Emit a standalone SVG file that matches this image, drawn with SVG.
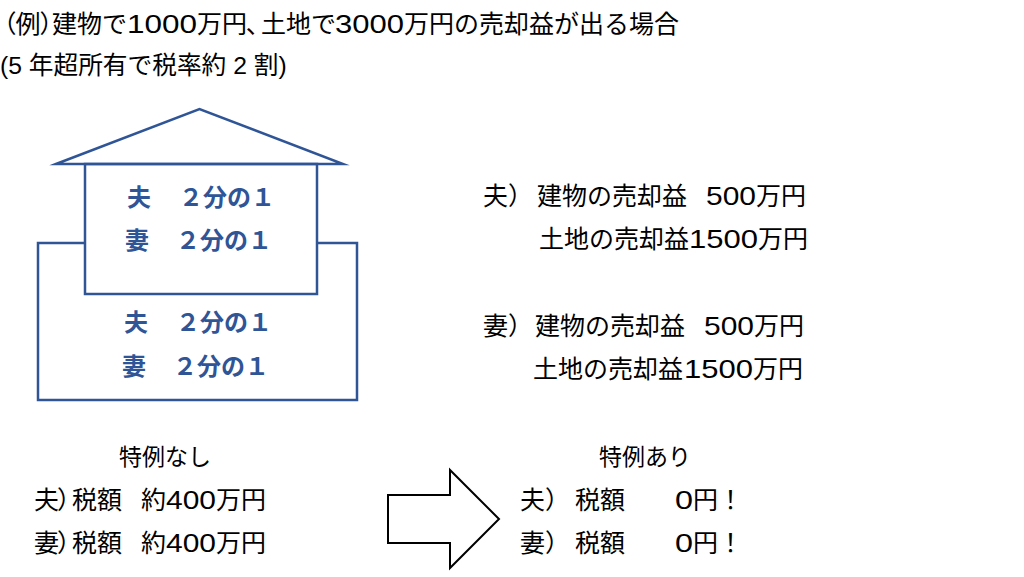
<svg xmlns="http://www.w3.org/2000/svg" width="1024" height="577" viewBox="0 0 1024 577">
<style>
text{font-family:"Liberation Sans","Noto Sans CJK JP",sans-serif;font-size:25px;fill:#000}
.p{font-feature-settings:"palt"}
.c{font-size:23px}
.b{fill:#2f5597;font-weight:700;font-family:"Noto Sans CJK JP",sans-serif;font-size:24px}
.s{fill:none;stroke:#2f5597;stroke-width:2.5;stroke-miterlimit:10}
</style>
<rect width="1024" height="577" fill="#fff"/>
<g id="house">
<path class="s" d="M85 243H38V400H357V243H317"/>
<rect class="s" x="85" y="164" width="232" height="130"/>
<path class="s" d="M56 164L199.500 109L343 164Z"/>
</g>
<g id="upper-share"><text class="b"><tspan x="127" y="206">夫</tspan><tspan x="179" y="206">２分の１</tspan><tspan x="125" y="249">妻</tspan><tspan x="176" y="249">２分の１</tspan></text></g>
<g id="lower-share"><text class="b"><tspan x="124" y="331">夫</tspan><tspan x="176" y="331">２分の１</tspan><tspan x="122" y="375">妻</tspan><tspan x="173" y="375">２分の１</tspan></text></g>
<g id="heading">
<text y="33"><tspan x="3" class="p">（例）</tspan><tspan x="52">建物で</tspan><tspan x="127" textLength="70" lengthAdjust="spacingAndGlyphs">1000</tspan><tspan x="197">万円</tspan><tspan x="246" class="p">、</tspan><tspan x="261">土地で</tspan><tspan x="335" textLength="69" lengthAdjust="spacingAndGlyphs">3000</tspan><tspan x="404">万円の売却益が出る場合</tspan></text>
<text x="0" y="74" font-size="24.700" style="font-size:24.700px">(5 年超所有で税率約 2 割)</text>
</g>
<g id="husband-gain"><text y="205"><tspan x="483">夫）</tspan><tspan x="537">建物の売却益</tspan><tspan x="706" textLength="50" lengthAdjust="spacingAndGlyphs">500</tspan><tspan x="756">万円</tspan></text>
<text y="248"><tspan x="539">土地の売却益</tspan><tspan x="689" textLength="69" lengthAdjust="spacingAndGlyphs">1500</tspan><tspan x="758">万円</tspan></text></g>
<g id="wife-gain"><text y="335"><tspan x="483">妻）</tspan><tspan x="535">建物の売却益</tspan><tspan x="704" textLength="50" lengthAdjust="spacingAndGlyphs">500</tspan><tspan x="754">万円</tspan></text>
<text y="378"><tspan x="533">土地の売却益</tspan><tspan x="684" textLength="69" lengthAdjust="spacingAndGlyphs">1500</tspan><tspan x="753">万円</tspan></text></g>
<g id="without"><text class="c" x="119" y="465">特例なし</text>
<text y="509"><tspan x="34">夫</tspan><tspan x="58" class="p">）</tspan><tspan x="72">税額</tspan><tspan x="141">約</tspan><tspan x="166" textLength="50" lengthAdjust="spacingAndGlyphs">400</tspan><tspan x="216">万円</tspan></text>
<text y="552"><tspan x="34">妻</tspan><tspan x="58" class="p">）</tspan><tspan x="72">税額</tspan><tspan x="141">約</tspan><tspan x="166" textLength="50" lengthAdjust="spacingAndGlyphs">400</tspan><tspan x="216">万円</tspan></text></g>
<g id="with"><text class="c" x="599" y="465">特例あり</text>
<text y="509"><tspan x="520">夫）</tspan><tspan x="575">税額</tspan><tspan x="675" textLength="18" lengthAdjust="spacingAndGlyphs">0</tspan><tspan x="693">円！</tspan></text>
<text y="552"><tspan x="520">妻）</tspan><tspan x="575">税額</tspan><tspan x="675" textLength="18" lengthAdjust="spacingAndGlyphs">0</tspan><tspan x="693">円！</tspan></text></g>
<g id="connectors"><path fill="#fff" stroke="#000" stroke-width="2" d="M388 495H450V470L499 519L450 568V543H388Z"/></g>
</svg>
